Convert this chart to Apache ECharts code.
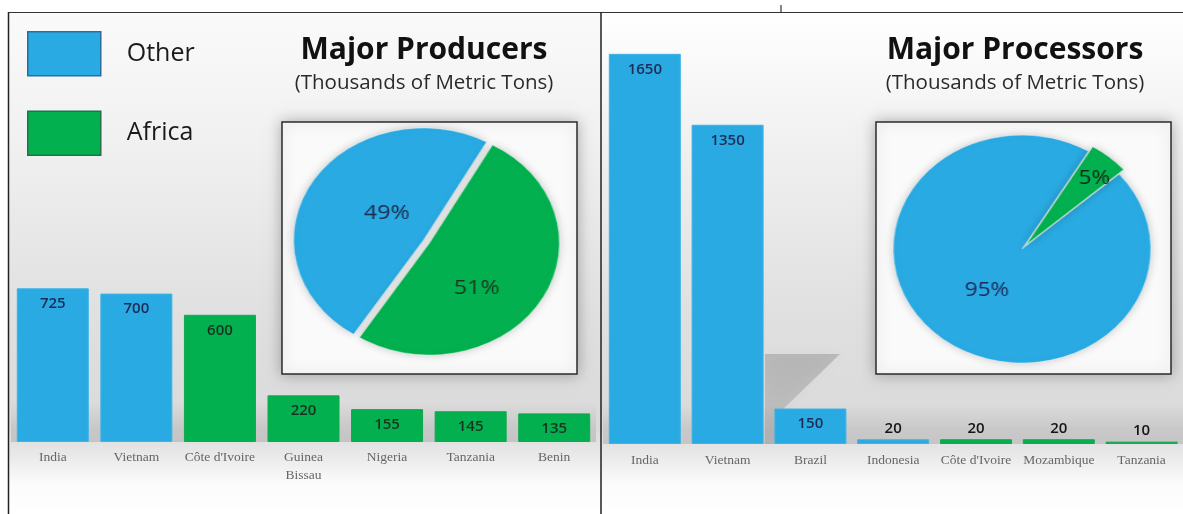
<!DOCTYPE html>
<html><head><meta charset="utf-8">
<script src="https://cdn.jsdelivr.net/npm/echarts@6/dist/echarts.min.js"></script>
<style>
html,body{margin:0;padding:0;background:#fff;overflow:hidden}
#main,#pieL,#pieR{position:absolute;left:0;top:0;width:1183px;height:514px}
#pieL{transform-origin:426.5px 0;transform:scaleX(1.16)}
#pieR{transform-origin:1022px 0;transform:scaleX(1.13)}
</style></head><body>
<div id="main"></div><div id="pieL"></div><div id="pieR"></div>
<script>
// ---- data ----
const producerCategories = ['India', 'Vietnam', "Côte d'Ivoire", 'Guinea\nBissau', 'Nigeria', 'Tanzania', 'Benin'];
const producerValues = [725, 700, 600, 220, 155, 145, 135];
const producerRegions = ['Other', 'Other', 'Africa', 'Africa', 'Africa', 'Africa', 'Africa'];
const processorCategories = ['India', 'Vietnam', 'Brazil', 'Indonesia', "Côte d'Ivoire", 'Mozambique', 'Tanzania'];
const processorValues = [1650, 1350, 150, 20, 20, 20, 10];
const processorRegions = ['Other', 'Other', 'Other', 'Other', 'Africa', 'Africa', 'Africa'];
const regionNames = ['Other', 'Africa'];
const producerShares = [49, 51];
const processorShares = [95, 5];
const titles = ['Major Producers', 'Major Processors'];
const subtitle = '(Thousands of Metric Tons)';

// ---- styles ----
const COLORS = { Other: '#2aaae2', Africa: '#03b04f' };
const BORDERS = { Other: '#3db3e6', Africa: '#12a84c' };
const LABEL_COLORS = { Other: '#1c2c56', Africa: '#17331f' };
const SANS = 'Open Sans';
const SERIF = 'Liberation Serif';

function barLabel(v, region) {
  if (v >= 100) {
    return { show: true, position: 'insideTop', distance: 8, color: LABEL_COLORS[region],
      fontFamily: SANS, fontSize: 15, fontWeight: 600, formatter: '{c}' };
  }
  return { show: true, position: 'top', distance: 3, color: '#151515',
    fontFamily: SANS, fontSize: 15, fontWeight: 600, formatter: '{c}' };
}
function regionSeries(region, axisIndex, values, regions) {
  return {
    type: 'bar', name: region, xAxisIndex: axisIndex, yAxisIndex: axisIndex,
    stack: 'panel' + axisIndex, barWidth: 72,
    itemStyle: { color: COLORS[region], borderColor: BORDERS[region], borderWidth: 1 },
    emphasis: { disabled: true },
    data: values.map((v, i) => regions[i] === region ? { value: v, label: barLabel(v, region) } : '-')
  };
}
const axisLabelStyle = (margin) => ({
  interval: 0, hideOverlap: false, margin: margin, color: '#666', fontFamily: SERIF,
  fontSize: 13.5, lineHeight: 18
});

function panelBg(x, w, topColor) {
  return {
    type: 'rect', z: -10, silent: true,
    shape: { x: x, y: 12, width: w, height: 502 },
    style: { fill: { type: 'linear', x: 0, y: 0, x2: 0, y2: 1, colorStops: [
      { offset: 0, color: topColor }, { offset: 0.25, color: '#f1f1f1' },
      { offset: 0.6, color: '#e0e0e0' }, { offset: 0.83, color: '#dadada' },
      { offset: 0.88, color: '#e8e8e8' }, { offset: 0.94, color: '#fbfbfb' },
      { offset: 1, color: '#ffffff' } ] } }
  };
}
function band(x, w, y0, y1) {
  return {
    type: 'rect', z: -9, silent: true,
    shape: { x: x, y: y0, width: w, height: y1 - y0 },
    style: { fill: { type: 'linear', x: 0, y: 0, x2: 0, y2: 1, colorStops: [
      { offset: 0, color: 'rgba(0,0,0,0)' }, { offset: 1, color: 'rgba(0,0,0,0.13)' } ] } }
  };
}
function pieBox(x) {
  return {
    type: 'rect', z: -5, silent: true,
    shape: { x: x, y: 122, width: 295, height: 252 },
    style: { fill: '#fafafa', stroke: '#2b2b2b', lineWidth: 1.5,
      shadowBlur: 14, shadowColor: 'rgba(0,0,0,0.28)' }
  };
}
function line(x1, y1, x2, y2, color, w) {
  return { type: 'line', z: 100, silent: true, shape: { x1, y1, x2, y2 },
    style: { stroke: color, lineWidth: w } };
}

const main = echarts.init(document.getElementById('main'), null, { renderer: 'canvas' });
main.setOption({
  animation: false,
  title: titles.map((t, i) => ({
    text: t, subtext: subtitle, left: i === 0 ? 424 : 1015, top: 32, textAlign: 'center',
    padding: 0, itemGap: 3,
    textStyle: { fontFamily: SANS, fontWeight: 700, fontSize: 30, lineHeight: 36, color: '#111' },
    subtextStyle: { fontFamily: SANS, fontSize: 20.5, lineHeight: 24, color: '#2a2a2a' }
  })),
  legend: {
    orient: 'vertical', left: 27, top: 31, padding: 0, itemWidth: 73, itemHeight: 44, itemGap: 34,
    icon: 'rect', selectedMode: false,
    textStyle: { fontFamily: SANS, fontSize: 25, color: '#1a1a1a', padding: [0, 0, 0, 21] },
    data: regionNames.map(n => ({ name: n, itemStyle: { color: COLORS[n],
      borderColor: n === 'Other' ? '#2b6c9c' : '#25704a', borderWidth: 1.5 } }))
  },
  grid: [
    { left: 11, width: 585, top: 230, height: 212 },
    { left: 603.4, width: 583.1, top: 42, height: 402 }
  ],
  xAxis: [
    { type: 'category', gridIndex: 0, data: producerCategories, axisLine: { show: false },
      axisTick: { show: false }, axisLabel: axisLabelStyle(6) },
    { type: 'category', gridIndex: 1, data: processorCategories, axisLine: { show: false },
      axisTick: { show: false }, axisLabel: axisLabelStyle(7) }
  ],
  yAxis: [
    { type: 'value', gridIndex: 0, min: 0, max: 1000, show: false, splitLine: { show: false } },
    { type: 'value', gridIndex: 1, min: 0, max: 1700, show: false, splitLine: { show: false } }
  ],
  series: [
    regionSeries('Other', 0, producerValues, producerRegions),
    regionSeries('Africa', 0, producerValues, producerRegions),
    regionSeries('Other', 1, processorValues, processorRegions),
    regionSeries('Africa', 1, processorValues, processorRegions)
  ],
  graphic: { elements: [
    panelBg(8, 593, '#fafafa'),
    panelBg(601, 582, '#ffffff'),
    band(11, 585, 402, 442),
    band(603, 580, 404, 444),
    { type: 'polygon', z: -8, silent: true,
      shape: { points: [[765, 354], [840, 354], [776, 416], [776, 444], [765, 444]] },
      style: { fill: { type: 'linear', x: 0, y: 0, x2: 0, y2: 1, colorStops: [
        { offset: 0, color: 'rgba(0,0,0,0.16)' }, { offset: 1, color: 'rgba(0,0,0,0.10)' } ] },
        shadowBlur: 14, shadowColor: 'rgba(0,0,0,0.18)' } },
    pieBox(282),
    pieBox(876),
    line(8, 12.5, 1183, 12.5, '#333', 1.2),
    line(781, 5, 781, 12.5, '#333', 1.2),
    line(8.5, 12, 8.5, 514, '#222', 1.5),
    line(601, 12, 601, 514, '#222', 1.5)
  ] }
});

// label placement tweaks: [leading/trailing blank line, line height, horizontal padding]
function pieOption(center, radius, startAngle, shares, selectedOffset, selectedFlags, labelColors, labelTweaks) {
  return {
    animation: false,
    series: [{
      type: 'pie', center: center, radius: radius, startAngle: startAngle, clockwise: true,
      selectedMode: 'multiple', selectedOffset: selectedOffset,
      emphasis: { disabled: true },
      label: { show: true, position: 'inside', fontFamily: SANS, fontSize: 20 },
      labelLine: { show: false },
      itemStyle: { shadowBlur: 8, shadowColor: 'rgba(0,0,0,0.22)', borderColor: 'rgba(255,255,255,0.35)', borderWidth: 1 },
      data: regionNames.map((n, i) => {
        const t = labelTweaks[i];
        return {
          name: n, value: shares[i], selected: selectedFlags[i],
          itemStyle: { color: COLORS[n] },
          label: { color: labelColors[i], lineHeight: t.lh, padding: t.pad,
            formatter: t.down ? '\n{d}%' : '{d}%\n' }
        };
      })
    }]
  };
}
echarts.init(document.getElementById('pieL')).setOption(
  pieOption([426.5, 241.5], 112, 237.4, producerShares, 3, [true, true],
    ['#1d2a4d', '#1e3522'],
    [{ down: true, lh: 8, pad: [0, 0, 0, 38] }, { down: true, lh: 30, pad: [0, 20, 0, 0] }]));
echarts.init(document.getElementById('pieR')).setOption(
  pieOption([1022, 249], 114, 41, processorShares, 6, [false, true],
    ['#1d2a5a', '#142a18'],
    [{ down: false, lh: 10, pad: [0, 0, 0, 15] }, { down: false, lh: 40, pad: [0, 0, 0, 43] }]));
</script></body></html>
